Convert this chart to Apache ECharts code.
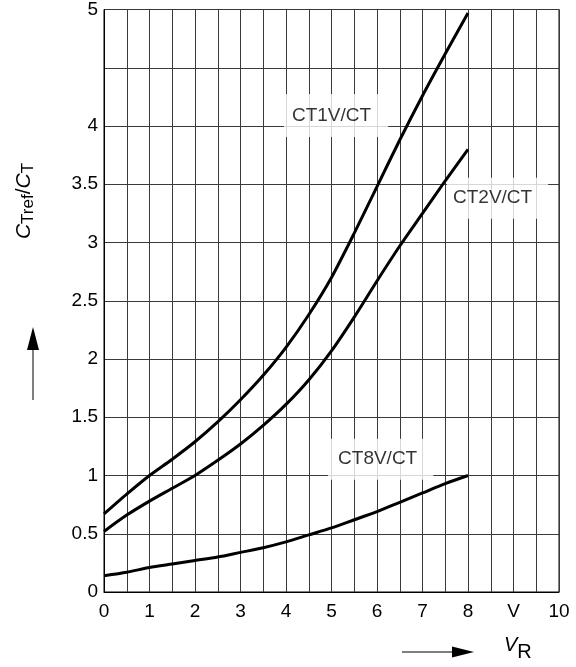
<!DOCTYPE html>
<html>
<head>
<meta charset="utf-8">
<script src="https://cdn.jsdelivr.net/npm/echarts@6/dist/echarts.min.js"></script>
<style>
html,body{margin:0;padding:0;background:#fff;}
#chart{width:576px;height:667px;}
</style>
</head>
<body>
<div id="chart"></div>
<script>
// ---- data ----
const xValues = [0, 0.5, 1, 1.5, 2, 2.5, 3, 3.5, 4, 4.5, 5, 5.5, 6, 6.5, 7, 7.5, 8];
const ct1 = [0.67, 0.84, 1.0, 1.14, 1.29, 1.46, 1.65, 1.86, 2.1, 2.38, 2.7, 3.08, 3.48, 3.88, 4.26, 4.62, 4.97];
const ct2 = [0.52, 0.66, 0.78, 0.89, 1.0, 1.13, 1.27, 1.43, 1.61, 1.82, 2.07, 2.36, 2.67, 2.97, 3.25, 3.53, 3.8];
const ct8 = [0.14, 0.17, 0.21, 0.24, 0.27, 0.30, 0.34, 0.38, 0.43, 0.49, 0.55, 0.62, 0.69, 0.77, 0.85, 0.93, 1.0];
const seriesNames = ['CT1V/CT', 'CT2V/CT', 'CT8V/CT'];
const xLabelValues = [0, 1, 2, 3, 4, 5, 6, 7, 8, 9, 10];
const xLabelTexts = ['0', '1', '2', '3', '4', '5', '6', '7', '8', 'V', '10'];
const yLabelValues = [0, 0.5, 1, 1.5, 2, 2.5, 3, 3.5, 4, 5];
const yLabelTexts = ['0', '0.5', '1', '1.5', '2', '2.5', '3', '3.5', '4', '5'];

function pairs(ys) { return xValues.map((x, i) => [x, ys[i]]); }
function lookup(vals, texts, v) {
  for (let i = 0; i < vals.length; i++) if (Math.abs(vals[i] - v) < 1e-6) return texts[i];
  return '';
}

const FONT = 'Liberation Sans, Arial, sans-serif';
const gridColor = '#3a3a3a';

const chart = echarts.init(document.getElementById('chart'), null, {renderer: 'canvas'});

function curve(name, ys) {
  return {
    name: name, type: 'line', data: pairs(ys), symbol: 'none', smooth: 0.25,
    lineStyle: {color: '#000', width: 3}, z: 5, silent: true
  };
}
function tag(text, pos, pad) {
  return {
    type: 'scatter', data: [pos], symbolSize: 1, itemStyle: {color: 'rgba(0,0,0,0)'}, silent: true, z: 4,
    label: {
      show: true, position: 'inside', formatter: text, color: '#000',
      fontSize: 19, fontFamily: FONT, backgroundColor: '#fff', padding: pad
    }
  };
}

const option = {
  animation: false,
  backgroundColor: '#fff',
  grid: {left: 104, top: 8, width: 455, height: 584, show: true, borderColor: '#000', borderWidth: 1, backgroundColor: 'transparent'},
  xAxis: {
    type: 'value', min: 0, max: 10, interval: 0.5,
    axisLine: {show: true, lineStyle: {color: '#000', width: 1}},
    axisTick: {show: false},
    splitLine: {show: true, lineStyle: {color: gridColor, width: 1}},
    axisLabel: {
      color: '#000', fontSize: 19, fontFamily: FONT, margin: 10,
      formatter: v => lookup(xLabelValues, xLabelTexts, v), showMinLabel: true, showMaxLabel: true
    }
  },
  yAxis: {
    type: 'value', min: 0, max: 5, interval: 0.5,
    axisLine: {show: true, lineStyle: {color: '#000', width: 1}},
    axisTick: {show: false},
    splitLine: {show: true, lineStyle: {color: gridColor, width: 1}},
    axisLabel: {
      color: '#000', fontSize: 19, fontFamily: FONT, margin: 6, padding: [10, 0, 0, 0],
      formatter: v => lookup(yLabelValues, yLabelTexts, v), showMinLabel: true, showMaxLabel: true
    }
  },
  series: [
    curve(seriesNames[0], ct1),
    curve(seriesNames[1], ct2),
    curve(seriesNames[2], ct8),
    tag(seriesNames[0], [5.10, 4.09], [8, 17, 16, 8]),
    tag(seriesNames[1], [8.65, 3.38], [9, 16, 13, 6]),
    tag(seriesNames[2], [6.08, 1.14], [8, 16, 14, 10])
  ],
  graphic: [
    {
      type: 'text', x: 24, y: 201, rotation: Math.PI / 2, silent: true,
      style: {
        text: '{i|C}{s|Tref}{n|/}{i|C}{s|T}', align: 'center', verticalAlign: 'middle',
        rich: {
          i: {fontSize: 21, fontStyle: 'italic', fontFamily: FONT, fill: '#000', color: '#000'},
          n: {fontSize: 21, fontFamily: FONT, fill: '#000', color: '#000'},
          s: {fontSize: 17, fontFamily: FONT, fill: '#000', color: '#000', padding: [8, 0, 0, 0]}
        }
      }
    },
    {type: 'line', silent: true, shape: {x1: 33, y1: 400, x2: 33, y2: 345}, style: {stroke: '#555', lineWidth: 1.5}},
    {type: 'polygon', silent: true, shape: {points: [[27, 350], [39, 350], [33, 327]]}, style: {fill: '#000'}},
    {
      type: 'text', x: 504, y: 645, silent: true,
      style: {
        text: '{i|V}{s|R}', align: 'left', verticalAlign: 'middle',
        rich: {
          i: {fontSize: 20, fontStyle: 'italic', fontFamily: FONT, fill: '#000', color: '#000'},
          s: {fontSize: 20, fontFamily: FONT, fill: '#000', color: '#000', padding: [14, 0, 0, 0]}
        }
      }
    },
    {type: 'line', silent: true, shape: {x1: 402, y1: 652, x2: 456, y2: 652}, style: {stroke: '#555', lineWidth: 1.5}},
    {type: 'polygon', silent: true, shape: {points: [[452, 646.5], [452, 657.5], [474, 652]]}, style: {fill: '#000'}}
  ]
};
chart.setOption(option);
</script>
</body>
</html>
